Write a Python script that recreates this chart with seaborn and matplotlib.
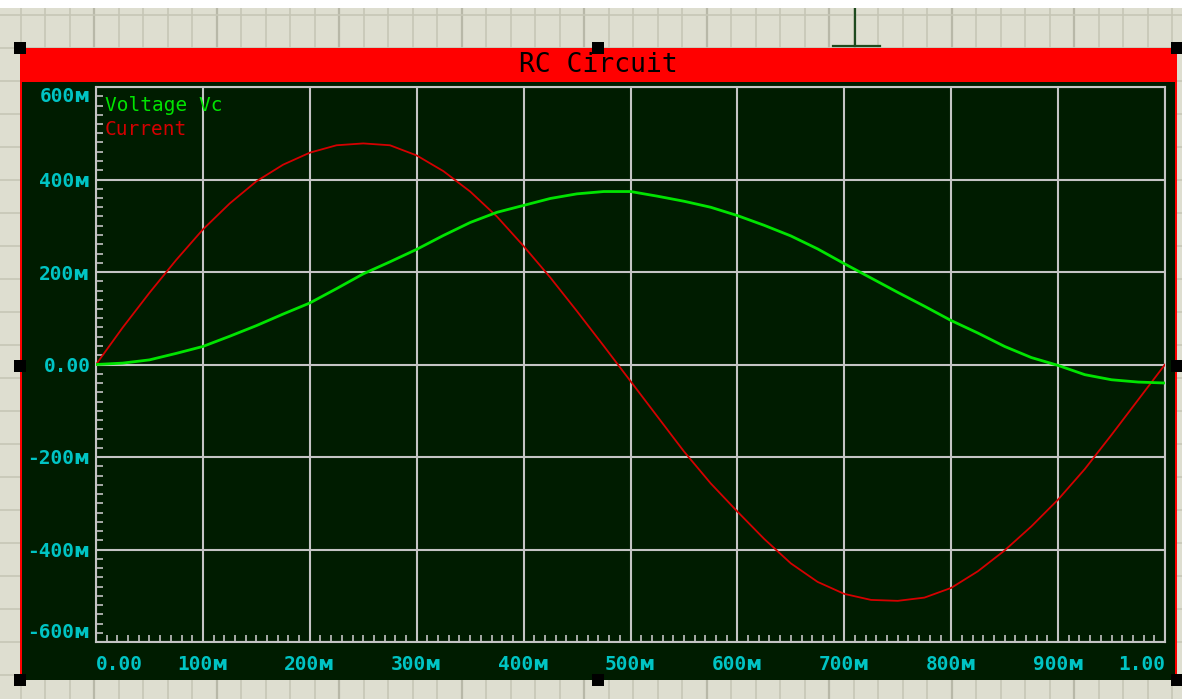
import numpy as np
import pandas as pd
import matplotlib
matplotlib.use("Agg")
import matplotlib.pyplot as plt
from matplotlib.patches import Rectangle
from matplotlib.ticker import FixedLocator, MultipleLocator, FuncFormatter
import seaborn as sns

# ---- data ---------------------------------------------------------------
time_s = [0.000, 0.025, 0.050, 0.075, 0.100, 0.125, 0.150, 0.175, 0.200, 0.225,
          0.250, 0.275, 0.300, 0.325, 0.350, 0.375, 0.400, 0.425, 0.450, 0.475,
          0.500, 0.525, 0.550, 0.575, 0.600, 0.625, 0.650, 0.675, 0.700, 0.725,
          0.750, 0.775, 0.800, 0.825, 0.850, 0.875, 0.900, 0.925, 0.950, 0.975,
          1.000]

voltage_vc = [0.000, 0.003, 0.010, 0.024, 0.039, 0.061, 0.084, 0.109, 0.133, 0.164,
              0.196, 0.222, 0.249, 0.279, 0.307, 0.329, 0.344, 0.359, 0.369, 0.374,
              0.374, 0.364, 0.353, 0.340, 0.322, 0.301, 0.278, 0.250, 0.218, 0.187,
              0.156, 0.126, 0.095, 0.068, 0.039, 0.015, -0.002, -0.022, -0.033, -0.038,
              -0.040]

current = [0.000, 0.080, 0.155, 0.226, 0.292, 0.348, 0.396, 0.432, 0.458, 0.474,
           0.478, 0.474, 0.452, 0.418, 0.374, 0.320, 0.256, 0.188, 0.115, 0.040,
           -0.036, -0.112, -0.188, -0.257, -0.318, -0.377, -0.430, -0.470, -0.496, -0.509,
           -0.511, -0.504, -0.483, -0.447, -0.402, -0.350, -0.292, -0.226, -0.152, -0.076,
           0.000]

series_names = ["Voltage Vc", "Current"]
series_colors = ["#00e400", "#d40000"]
chart_title = "RC Circuit"

x_ticks = [0.0, 0.1, 0.2, 0.3, 0.4, 0.5, 0.6, 0.7, 0.8, 0.9, 1.0]
y_ticks = [-0.6, -0.4, -0.2, 0.0, 0.2, 0.4, 0.6]

# ---- colours ------------------------------------------------------------
BEIGE = "#deded0"
BEIGE_LINE = "#c6c6b6"
BEIGE_LINE_MAJOR = "#b8b8a8"
SCREEN = "#001c00"
GRID = "#c4c4c4"
LABEL = "#00c4c4"
FRAME_RED = "#ff0000"

W, H = 1182, 699
fig = plt.figure(figsize=(W / 100, H / 100), dpi=100, facecolor="white")

# ---- schematic sheet behind the graph (pixel coordinates) ---------------
bg = fig.add_axes([0, 0, 1, (H - 8) / H])
bg.set_xlim(0, W)
bg.set_ylim(H, 8)
bg.set_facecolor(BEIGE)
for s in bg.spines.values():
    s.set_visible(False)
bg.set_xticks([])
bg.set_yticks([])
for k, gx in enumerate(np.arange(20.7, W, 24.5)):
    bg.axvline(gx, color=BEIGE_LINE_MAJOR if k % 5 == 3 else BEIGE_LINE,
               lw=1.6 if k % 5 == 3 else 1.2, zorder=0)
for gy in np.arange(15, H, 33):
    bg.axhline(gy, color=BEIGE_LINE, lw=1.2, zorder=0)

# wire stub above the graph frame
bg.plot([855, 855], [8, 46], color="#1e4a1e", lw=1.6, zorder=1)
bg.plot([833, 880], [46, 46], color="#1e4a1e", lw=1.6, zorder=1)

# graph frame: red border, title bar and dark screen
bg.add_patch(Rectangle((20, 48), 1157, 632, facecolor=FRAME_RED, edgecolor="none", zorder=2))
bg.add_patch(Rectangle((22, 82), 1153, 598, facecolor=SCREEN, edgecolor="none", zorder=3))
bg.text(598, 65, chart_title, ha="center", va="center", color="black",
        fontsize=19, family="DejaVu Sans Mono", zorder=5)

# selection handles
for hx, hy in [(20, 48), (598, 48), (1177, 48), (20, 366), (1177, 366),
               (20, 680), (598, 680), (1177, 680)]:
    bg.add_patch(Rectangle((hx - 6, hy - 6), 12, 12, facecolor="black",
                           edgecolor="none", zorder=6))

# ---- graph area ---------------------------------------------------------
ax = fig.add_axes([96 / W, 1 - 642 / H, (1165 - 96) / W, (642 - 87) / H])
ax.set_facecolor(SCREEN)

df = pd.DataFrame({
    "t": time_s * 2,
    "value": voltage_vc + current,
    "series": [series_names[0]] * len(time_s) + [series_names[1]] * len(time_s),
})
sns.lineplot(data=df[df.series == series_names[1]], x="t", y="value",
             color=series_colors[1], lw=1.3, estimator=None, ax=ax, legend=False, zorder=4)
sns.lineplot(data=df[df.series == series_names[0]], x="t", y="value",
             color=series_colors[0], lw=2.0, estimator=None, ax=ax, legend=False, zorder=5)

ax.set_xlim(0, 1)
ax.set_ylim(-0.6, 0.6)
ax.set_xlabel("")
ax.set_ylabel("")

ax.xaxis.set_major_locator(FixedLocator(x_ticks))
ax.yaxis.set_major_locator(FixedLocator(y_ticks))
ax.xaxis.set_minor_locator(MultipleLocator(0.01))
ax.yaxis.set_minor_locator(MultipleLocator(0.02))


def milli(v, _pos=None):
    if abs(v) < 1e-9:
        return "0.00"
    if abs(abs(v) - 1.0) < 1e-9:
        return f"{v:.2f}"
    return f"{int(round(v * 1000))}\u1d0d"


ax.xaxis.set_major_formatter(FuncFormatter(milli))
ax.yaxis.set_major_formatter(FuncFormatter(milli))

ax.grid(True, which="major", color=GRID, lw=1.5, zorder=1)
ax.set_axisbelow(True)
for s in ax.spines.values():
    s.set_color(GRID)
    s.set_linewidth(1.5)

ax.tick_params(which="major", length=0, labelcolor=LABEL, labelsize=14)
ax.tick_params(axis="x", which="major", pad=9)
ax.tick_params(axis="y", which="major", pad=4)
ax.tick_params(which="minor", direction="in", length=5, width=1.2, color=GRID)

label_font = ["DejaVu Sans Mono", "DejaVu Sans"]
xl = ax.get_xticklabels()
yl = ax.get_yticklabels()
for t in xl + yl:
    t.set_family(label_font)
    t.set_fontweight("bold")
xl[0].set_horizontalalignment("left")
xl[-1].set_horizontalalignment("right")
yl[0].set_verticalalignment("bottom")
yl[-1].set_verticalalignment("top")

# trace names in the top-left corner, coloured like their traces
handles = [plt.Line2D([], [], color=c) for c in series_colors]
leg = ax.legend(handles, series_names, loc="upper left", frameon=False,
                handlelength=0, handletextpad=0, labelcolor="linecolor",
                borderaxespad=0.25, borderpad=0.2, labelspacing=0.25,
                prop={"family": "DejaVu Sans Mono", "size": 14})

fig.savefig("out.png", dpi=100, facecolor="white")
